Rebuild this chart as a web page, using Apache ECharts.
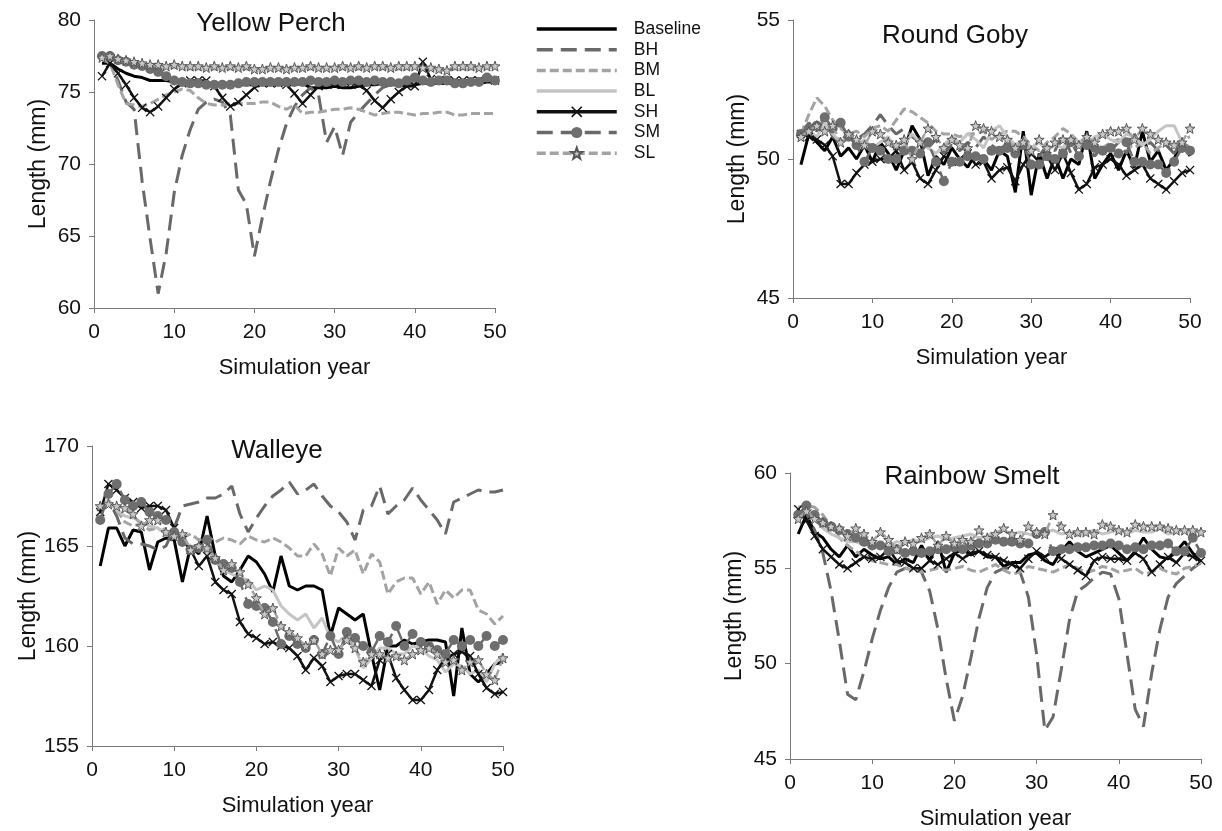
<!DOCTYPE html>
<html>
<head>
<meta charset="utf-8">
<script src="https://cdn.jsdelivr.net/npm/echarts@6/dist/echarts.min.js"></script>
<style>
  html, body { margin: 0; padding: 0; background: #fff; }
  #main { width: 1222px; height: 831px; }
</style>
</head>
<body>
<div id="main"></div>
<script>
const years = [1, 2, 3, 4, 5, 6, 7, 8, 9, 10, 11, 12, 13, 14, 15, 16, 17, 18, 19, 20,
  21, 22, 23, 24, 25, 26, 27, 28, 29, 30, 31, 32, 33, 34, 35, 36, 37, 38, 39, 40,
  41, 42, 43, 44, 45, 46, 47, 48, 49, 50];
const scenarios = ["Baseline", "BH", "BM", "BL", "SH", "SM", "SL"];

// Yellow Perch
const ypBaseline = [77.0, 77.0, 76.6, 76.3, 76.1, 76.0, 75.8, 75.8, 75.8, 75.7,
  75.6, 75.6, 75.5, 75.6, 75.5, 75.5, 75.6, 75.5, 75.5, 75.5,
  75.6, 75.5, 75.6, 75.5, 75.5, 75.6, 75.3, 75.3, 75.3, 75.4,
  75.3, 75.3, 75.4, 75.5, 75.5, 75.6, 75.5, 75.5, 75.4, 75.5,
  75.6, 75.6, 75.6, 75.6, 75.6, 75.7, 75.6, 75.6, 75.7, 75.7];
const ypBH = [77.3, 77.0, 75.8, 74.3, 73.8, 68.8, 64.8, 61.0, 63.8, 68.0,
  70.6, 72.4, 73.8, 74.3, 74.5, 74.3, 73.4, 68.2, 67.2, 63.6,
  66.3, 68.8, 71.0, 72.8, 74.0, 74.8, 75.3, 74.8, 71.5, 72.6,
  70.6, 72.9, 73.6, 74.2, 74.8, 75.3, 75.5, 75.5, 75.6, 75.6,
  75.7, 75.6, 75.6, 75.7, 75.7, 75.6, 75.7, 75.7, 75.8, 75.7];
const ypBM = [77.3, 77.0, 75.5, 74.2, 74.1, 74.0, 74.2, 74.5, 74.8, 75.0,
  75.2, 75.1, 74.6, 74.2, 74.1, 74.1, 74.2, 74.2, 74.2, 74.2,
  74.3, 74.3, 74.0, 73.8, 74.1, 73.5, 73.6, 73.6, 73.7, 73.8,
  73.8, 73.9, 73.8, 73.6, 73.4, 73.5, 73.6, 73.6, 73.5, 73.4,
  73.5, 73.5, 73.6, 73.6, 73.4, 73.4, 73.5, 73.5, 73.5, 73.5];
const ypBL = [77.3, 77.3, 77.1, 77.0, 76.9, 76.8, 76.8, 76.7, 76.7, 76.7,
  76.7, 76.6, 76.6, 76.6, 76.6, 76.6, 76.6, 76.6, 76.6, 76.5,
  76.5, 76.6, 76.6, 76.5, 76.6, 76.6, 76.6, 76.6, 76.6, 76.6,
  76.6, 76.6, 76.6, 76.6, 76.7, 76.6, 76.6, 76.6, 76.6, 76.7,
  76.6, 76.6, 76.5, 76.5, 76.6, 76.6, 76.6, 76.6, 76.7, 76.7];
const ypSH = [76.1, 77.0, 76.3, 75.5, 74.6, 73.9, 73.6, 74.0, 74.6, 75.2,
  75.6, 75.8, 75.8, 75.8, 75.4, 74.6, 74.0, 74.3, 74.8, 75.3,
  75.6, 75.6, 75.6, 75.5, 74.9, 74.2, 74.8, 75.4, 75.6, 75.5,
  75.5, 75.6, 75.5, 75.1, 74.4, 73.9, 74.5, 75.0, 75.4, 75.4,
  77.1, 75.9, 75.8, 75.8, 75.8, 75.8, 75.8, 75.8, 75.9, 75.8];
const ypSM = [77.5, 77.5, 77.2, 77.1, 76.9, 76.8, 76.6, 76.4, 76.1, 75.8,
  75.7, 75.6, 75.6, 75.5, 75.5, 75.5, 75.5, 75.6, 75.7, 75.7,
  75.7, 75.7, 75.7, 75.7, 75.7, 75.7, 75.8, 75.7, 75.7, 75.8,
  75.7, 75.8, 75.8, 75.7, 75.8, 75.7, 75.7, 75.6, 75.8, 76.0,
  75.8, 75.7, 75.8, 75.8, 75.6, 75.6, 75.7, 75.7, 76.0, 75.8];
const ypSL = [77.4, 77.5, 77.3, 77.2, 77.1, 77.0, 76.9, 76.9, 76.8, 76.9,
  76.8, 76.8, 76.8, 76.7, 76.8, 76.7, 76.8, 76.7, 76.8, 76.6,
  76.6, 76.7, 76.7, 76.6, 76.7, 76.7, 76.8, 76.7, 76.7, 76.7,
  76.8, 76.7, 76.8, 76.7, 76.8, 76.8, 76.7, 76.8, 76.8, 76.8,
  76.7, 76.7, 76.6, 76.5, 76.8, 76.8, 76.8, 76.7, 76.8, 76.8];

// Round Goby
const rgBaseline = [49.8, 50.9, 50.6, 50.3, 50.8, 50.1, 50.4, 50.0, 50.5, 49.9,
  50.6, 50.2, 49.6, 50.3, 51.2, 50.7, 49.4, 50.1, 49.8, 50.4,
  50.0, 49.7, 50.2, 50.0, 49.6, 50.3, 50.1, 48.8, 51.0, 48.7,
  50.2, 49.3, 50.1, 49.3, 50.0, 49.8, 51.0, 49.3, 49.8, 50.2,
  49.6, 50.3, 49.7, 51.0, 49.9, 50.3, 49.6, 50.0, 50.7, 50.1];
const rgBH = [50.9, 51.3, 51.0, 51.4, 50.8, 50.6, 51.0, 50.7, 50.9, 51.2,
  51.6, 51.2, 50.9, 51.1, 50.8, 50.6, 50.4, 50.7, 50.2, 50.5,
  50.3, 50.6, 50.4, 50.8, 50.5, 50.3, 50.6, 50.2, 50.7, 50.4,
  50.1, 50.5, 50.3, 50.9, 50.2, 50.6, 50.4, 50.1, 50.5, 50.3,
  50.6, 50.2, 50.9, 50.4, 50.6, 50.3, 50.5, 50.2, 50.6, 50.4];
const rgBM = [50.9, 51.6, 52.2, 51.9, 51.4, 51.1, 50.9, 51.0, 50.8, 51.1,
  51.2, 51.0, 51.4, 51.8, 51.7, 51.5, 51.3, 51.0, 50.9, 50.9,
  50.8, 50.9, 50.9, 51.0, 50.7, 50.9, 51.0, 51.0, 50.8, 50.5,
  50.3, 50.6, 50.8, 51.1, 50.9, 50.6, 50.8, 50.5, 50.4, 50.6,
  50.7, 50.5, 50.4, 50.6, 50.2, 50.4, 50.6, 50.5, 50.7, 50.8];
const rgBL = [50.9, 51.0, 50.8, 51.3, 50.9, 50.6, 50.8, 50.5, 50.7, 50.4,
  50.6, 50.8, 50.3, 50.5, 50.9, 50.6, 50.4, 50.2, 50.5, 50.8,
  50.6, 50.9, 50.7, 50.4, 51.0, 51.2, 50.8, 50.5, 50.7, 50.4,
  50.6, 50.3, 50.5, 50.4, 50.8, 50.6, 50.5, 50.8, 50.9, 50.7,
  50.6, 50.9, 50.8, 50.5, 50.7, 51.0, 51.2, 51.2, 50.6, 50.3];
const rgSH = [50.9, 50.8, 50.7, 50.5, 50.1, 49.1, 49.1, 49.5, 49.8, 49.9,
  50.0, 50.0, 50.3, 49.6, 49.9, 49.3, 49.1, 49.6, 50.1, 49.9,
  50.0, 50.2, 49.8, 49.9, 49.3, 49.6, 49.7, 49.2, 49.8, 50.2,
  49.9, 50.1, 49.6, 50.2, 49.5, 48.9, 49.1, 49.7, 49.8, 50.0,
  49.8, 49.4, 49.6, 49.8, 49.3, 49.1, 48.9, 49.2, 49.5, 49.6];
const rgSM = [50.9, 51.1, 51.2, 51.5, 51.1, 51.3, 50.8, 50.5, 49.9, 50.4,
  50.3, 50.0, 50.0, 50.3, 50.3, 50.2, 50.6, 49.9, 49.2, 49.9,
  49.9, 50.1, 50.1, 50.0, 50.3, 50.3, 50.4, 50.2, 50.5, 49.8,
  49.8, 50.1, 50.0, 50.2, 50.6, 50.1, 50.5, 50.4, 50.3, 50.4,
  50.2, 50.6, 49.9, 49.9, 49.8, 49.8, 49.5, 49.9, 50.4, 50.3];
const rgSL = [50.8, 51.0, 51.2, 51.0, 51.2, 50.6, 50.9, 50.7, 50.5, 51.0,
  50.9, 50.6, 50.5, 50.7, 50.0, 50.6, 51.1, 50.8, 50.4, 50.7,
  50.5, 50.4, 51.2, 51.1, 51.0, 50.8, 50.7, 50.4, 50.6, 50.3,
  50.7, 50.4, 50.6, 50.7, 50.7, 50.5, 50.8, 50.6, 50.9, 51.0,
  51.0, 51.1, 50.7, 51.1, 50.9, 50.7, 50.6, 50.5, 50.6, 51.1];

// Walleye
const weBaseline = [164.0, 165.9, 165.9, 165.0, 165.8, 165.7, 163.8, 165.2, 165.4, 165.3,
  163.2, 165.0, 164.6, 166.5, 164.5, 163.5, 163.2, 163.8, 164.5, 164.2,
  163.6, 162.7, 164.5, 163.0, 162.8, 163.0, 163.0, 162.8, 160.5, 161.9,
  161.6, 161.3, 161.6, 159.6, 157.8, 160.0, 160.0, 160.3, 160.1, 160.2,
  160.3, 160.3, 160.2, 157.5, 160.9, 158.6, 158.2, 158.6, 159.1, 159.2];
const weBH = [166.8, 167.3, 166.5, 165.4, 165.1, 165.1, 165.0, 164.8, 165.0, 165.9,
  167.0, 167.1, 167.2, 167.4, 167.4, 167.6, 168.0, 166.6, 165.7, 166.4,
  167.0, 167.5, 167.8, 168.2, 167.6, 167.8, 168.1, 167.5, 167.0, 166.7,
  166.2, 165.3, 166.8, 167.0, 168.0, 166.6, 167.0, 167.3, 167.9, 167.3,
  166.8, 166.3, 165.6, 167.2, 167.4, 167.6, 167.8, 167.7, 167.7, 167.8];
const weBM = [166.6, 167.2, 166.8, 166.2, 166.0, 166.1, 165.8, 165.9, 165.6, 165.5,
  165.4, 165.6, 165.3, 165.5, 165.2, 165.4, 165.3, 165.1, 165.5, 165.3,
  165.2, 165.4, 165.2, 164.9, 164.5, 164.5, 165.1, 164.6, 163.5, 164.9,
  164.5, 164.8, 163.6, 164.6, 164.2, 162.6, 163.2, 163.4, 163.4, 162.6,
  163.2, 162.1, 162.8, 162.4, 162.8, 162.8, 161.8, 161.6, 161.1, 161.5];
const weBL = [167.0, 167.3, 166.8, 166.5, 166.4, 166.2, 166.0, 165.9, 165.6, 165.5,
  165.3, 165.0, 164.9, 164.7, 164.3, 163.8, 163.6, 163.4, 163.3, 162.8,
  163.0, 162.8, 162.0, 161.6, 161.3, 161.6, 160.9, 161.4, 160.4, 160.2,
  160.6, 159.9, 158.9, 159.4, 159.9, 159.9, 159.6, 159.6, 160.0, 159.9,
  159.5, 159.3, 158.7, 159.1, 159.0, 158.6, 158.8, 158.2, 159.1, 159.6];
const weSH = [166.7, 168.1, 167.8, 167.4, 167.2, 166.9, 167.0, 167.0, 166.8, 165.9,
  165.3, 164.8, 164.0, 164.5, 163.2, 162.8, 162.6, 161.2, 160.6, 160.4,
  160.1, 160.2, 160.0, 159.9, 159.5, 158.8, 159.4, 159.0, 158.2, 158.5,
  158.6, 158.6, 158.3, 158.0, 159.3, 159.6, 158.4, 157.8, 157.3, 157.3,
  157.8, 158.8, 159.4, 159.6, 159.7, 159.5, 158.6, 157.9, 157.6, 157.7];
const weSM = [166.3, 167.6, 168.1, 167.3, 167.0, 167.2, 166.7, 166.5, 166.3, 165.7,
  165.2, 164.8, 164.9, 165.3, 164.3, 164.1, 163.9, 163.2, 162.1, 162.0,
  161.9, 161.2, 160.1, 160.5, 160.1, 159.9, 160.3, 159.6, 160.5, 159.6,
  160.7, 160.4, 160.0, 159.7, 160.5, 160.2, 161.0, 160.0, 160.6, 160.2,
  160.0, 159.8, 159.6, 160.3, 160.0, 160.3, 160.0, 160.5, 160.0, 160.3];
const weSL = [167.0, 167.1, 167.0, 166.9, 166.6, 166.0, 166.3, 166.3, 165.7, 165.5,
  165.6, 164.8, 165.0, 164.9, 164.4, 163.8, 164.1, 163.7, 163.1, 162.4,
  161.6, 161.9, 161.0, 160.7, 160.4, 160.0, 160.3, 159.6, 159.8, 159.8,
  160.3, 159.9, 159.2, 159.6, 159.6, 159.4, 159.5, 159.3, 159.6, 159.8,
  159.9, 159.6, 159.2, 159.3, 158.8, 159.2, 159.3, 158.6, 158.3, 159.4];

// Rainbow Smelt
const rsBaseline = [56.8, 57.8, 56.9, 56.6, 56.0, 55.6, 56.2, 55.6, 56.0, 55.7,
  55.5, 55.6, 55.2, 55.5, 55.3, 56.2, 55.4, 56.4, 54.8, 55.8,
  56.0, 55.7, 55.9, 55.6, 55.6, 55.1, 55.3, 55.3, 55.7, 55.8,
  55.4, 55.2, 55.9, 56.4, 55.9, 55.6, 55.8, 56.0, 56.2, 55.8,
  55.4, 55.9, 56.6, 56.0, 55.6, 55.5, 55.9, 56.4, 55.8, 55.3];
const rsBH = [57.8, 57.9, 57.0, 55.8, 53.8, 51.2, 48.4, 48.1, 49.6, 51.3,
  52.8, 54.0, 54.8, 55.0, 55.0, 54.8, 53.8, 51.8, 49.2, 47.0,
  48.3, 50.3, 52.4, 54.0, 54.8, 55.0, 55.0, 54.8, 53.5, 50.5,
  46.5, 47.2, 49.7, 52.3, 53.8, 54.1, 54.5, 54.8, 54.7, 53.4,
  50.5, 47.6, 46.7, 49.5, 51.8, 53.5, 54.2, 54.6, 55.0, 55.3];
const rsBM = [58.2, 58.3, 58.2, 57.8, 57.2, 56.6, 56.2, 55.9, 55.6, 55.4,
  55.3, 55.2, 55.2, 55.0, 54.9, 54.8, 54.9, 55.0, 54.9, 55.0,
  55.1, 54.9, 54.8, 55.0, 55.2, 54.9, 54.7, 54.8, 55.1, 55.0,
  54.9, 54.8, 55.0, 55.2, 55.0, 54.8, 54.9, 55.1, 55.0, 54.8,
  54.9, 55.0, 54.7, 54.8, 55.0, 54.8, 54.7, 55.0, 55.1, 55.3];
const rsBL = [57.9, 58.1, 57.6, 57.1, 56.8, 56.6, 56.4, 56.4, 56.2, 56.3,
  56.1, 56.2, 56.4, 56.3, 56.5, 56.4, 56.6, 56.7, 56.5, 56.6,
  56.7, 56.8, 56.6, 56.7, 56.9, 57.0, 56.8, 56.9, 56.8, 56.7,
  56.9, 57.0, 56.8, 56.9, 56.7, 56.9, 57.0, 56.8, 56.9, 57.0,
  56.8, 57.0, 56.9, 56.9, 57.1, 56.8, 56.9, 57.0, 56.8, 57.0];
const rsSH = [58.1, 57.5, 56.7, 56.0, 55.6, 55.2, 55.0, 55.3, 55.6, 55.5,
  55.6, 56.0, 55.4, 55.3, 55.0, 55.0, 55.4, 55.2, 55.5, 55.8,
  55.5, 55.8, 55.9, 55.7, 55.6, 55.4, 55.2, 55.0, 55.5, 55.9,
  55.6, 55.9, 55.5, 55.2, 54.9, 54.6, 55.4, 55.6, 55.5, 55.5,
  55.4, 55.8, 55.5, 54.8, 55.2, 55.6, 55.3, 55.8, 55.6, 55.4];
const rsSM = [57.8, 58.3, 57.8, 57.4, 57.2, 57.0, 56.8, 56.6, 56.4, 56.2,
  56.2, 55.9, 56.0, 55.8, 55.9, 55.8, 55.9, 56.0, 56.0, 56.1,
  56.0, 56.2, 56.3, 56.3, 56.5, 56.4, 56.4, 56.3, 56.3, 56.8,
  56.9, 55.9, 56.0, 56.0, 56.1, 56.1, 56.2, 56.2, 56.3, 56.2,
  56.0, 56.1, 56.0, 56.2, 56.2, 56.3, 55.9, 55.9, 56.6, 55.8];
const rsSL = [57.6, 58.0, 57.6, 57.4, 57.2, 57.1, 56.7, 57.1, 56.8, 56.4,
  56.9, 56.5, 56.0, 56.4, 56.3, 56.6, 56.8, 56.2, 56.7, 56.3,
  56.5, 56.4, 57.0, 56.6, 56.8, 57.1, 56.8, 56.5, 57.2, 56.9,
  56.8, 57.8, 57.2, 56.8, 56.9, 56.9, 56.8, 57.3, 57.2, 57.0,
  56.9, 57.3, 57.2, 57.2, 57.2, 57.1, 57.0, 57.0, 57.0, 56.9];

const panels = [
  { title: "Yellow Perch", min: 60, max: 80, values: [ypBaseline, ypBH, ypBM, ypBL, ypSH, ypSM, ypSL] },
  { title: "Round Goby", min: 45, max: 55, values: [rgBaseline, rgBH, rgBM, rgBL, rgSH, rgSM, rgSL] },
  { title: "Walleye", min: 155, max: 170, values: [weBaseline, weBH, weBM, weBL, weSH, weSM, weSL] },
  { title: "Rainbow Smelt", min: 45, max: 60, values: [rsBaseline, rsBH, rsBM, rsBL, rsSH, rsSM, rsSL] },
];

const FONT = "Liberation Sans, Arial, sans-serif";
const grids = [
  { left: 94, top: 20, width: 401, height: 288 },
  { left: 793, top: 20, width: 397, height: 278 },
  { left: 92, top: 446, width: 411, height: 300 },
  { left: 790, top: 473, width: 411, height: 287 },
];
const titlePos = [
  { x: 266, y: 6 },
  { x: 950, y: 18 },
  { x: 272, y: 433 },
  { x: 967, y: 459 },
];

const crossPath = "path://M0,1L1,0L5,4L9,0L10,1L6,5L10,9L9,10L5,6L1,10L0,9L4,5Z";
const starPath = "path://M10,0L12.35,6.76L19.51,6.91L13.8,11.24L15.88,18.09L10,14L4.12,18.09L6.2,11.24L0.49,6.91L7.65,6.76Z";

const styles = {
  Baseline: { color: "#000000", width: 3, type: "solid", symbol: "none" },
  BH: { color: "#696969", width: 3, type: [16, 8], symbol: "none" },
  BM: { color: "#a3a3a3", width: 3, type: [9, 4], symbol: "none" },
  BL: { color: "#c4c4c4", width: 3, type: "solid", symbol: "none" },
  SH: { color: "#111111", width: 2.5, type: "solid", symbol: crossPath, size: 9 },
  SM: { color: "#696969", width: 2.5, type: [16, 8], symbol: "circle", size: 10 },
  SL: { color: "#a3a3a3", width: 2.5, type: [9, 4], symbol: starPath, size: 10 },
};

const axisLine = { show: true, lineStyle: { color: "#7a7a7a", width: 1 } };
const axisTick = { show: true, length: 5, lineStyle: { color: "#7a7a7a" } };

const series = [];
panels.forEach((p, gi) => {
  scenarios.forEach((name, si) => {
    const st = styles[name];
    const s = {
      name,
      type: "line",
      xAxisIndex: gi,
      yAxisIndex: gi,
      data: p.values[si].map((v, i) => [years[i], v]),
      lineStyle: { color: st.color, width: st.width, type: st.type },
      itemStyle: { color: st.color },
      symbol: st.symbol,
      showSymbol: st.symbol !== "none",
      z: 2 + si,
    };
    if (name === "SH") {
      s.symbolSize = st.size;
      s.itemStyle = { color: "#111111" };
    } else if (name === "SM") {
      s.symbolSize = st.size;
      s.itemStyle = { color: "#6e6e6e" };
    } else if (name === "SL") {
      s.symbolSize = st.size;
      s.itemStyle = { color: "#c8c8c8", borderColor: "#555555", borderWidth: 1 };
    }
    series.push(s);
  });
});

// plain lines get no marker in the legend
const legendData = scenarios.map((name) =>
  styles[name].symbol === "none" ? { name, itemStyle: { opacity: 0 } } : { name }
);

const option = {
  animation: false,
  backgroundColor: "#ffffff",
  textStyle: { fontFamily: FONT },
  title: panels.map((p, i) => ({
    text: p.title,
    left: titlePos[i].x,
    top: titlePos[i].y,
    textAlign: "center",
    textStyle: { fontSize: 26, fontWeight: "normal", color: "#111", fontFamily: FONT },
  })),
  legend: {
    data: legendData,
    orient: "vertical",
    left: 530,
    top: 15,
    itemWidth: 80,
    itemHeight: 14,
    itemGap: 2.7,
    lineStyle: { width: 3.5 },
    textStyle: { fontSize: 17.5, color: "#111", fontFamily: FONT, padding: [0, 0, 0, 12] },
  },
  grid: grids.map((g) => ({ ...g, containLabel: false })),
  xAxis: grids.map((g, i) => ({
    type: "value",
    gridIndex: i,
    min: 0,
    max: 50,
    interval: 10,
    name: "Simulation year",
    nameLocation: "middle",
    nameGap: 49,
    nameTextStyle: { fontSize: 22, color: "#111", fontFamily: FONT },
    axisLine,
    axisTick,
    splitLine: { show: false },
    axisLabel: { fontSize: 21, color: "#111", margin: 14, fontFamily: FONT },
  })),
  yAxis: panels.map((p, i) => ({
    type: "value",
    gridIndex: i,
    min: p.min,
    max: p.max,
    interval: 5,
    name: "Length (mm)",
    nameLocation: "middle",
    nameGap: 44,
    nameTextStyle: { fontSize: 23, color: "#111", fontFamily: FONT },
    axisLine,
    axisTick,
    splitLine: { show: false },
    axisLabel: { fontSize: 21, color: "#111", margin: 13, fontFamily: FONT },
  })),
  series,
};

const chart = echarts.init(document.getElementById("main"), null, { renderer: "canvas" });
chart.setOption(option);
</script>
</body>
</html>
